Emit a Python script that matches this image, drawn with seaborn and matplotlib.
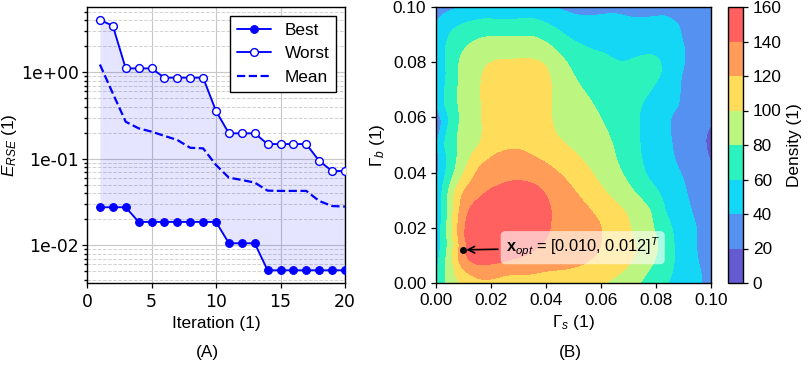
import numpy as np
import pandas as pd
import matplotlib
matplotlib.use("Agg")
import matplotlib.pyplot as plt
import seaborn as sns
from matplotlib.ticker import FuncFormatter, LogLocator, NullFormatter

# ---------------- Panel (A): convergence data ----------------
iterations = list(range(1, 21))
best = [0.0275, 0.0275, 0.0275, 0.0186, 0.0186, 0.0186, 0.0186, 0.0186, 0.0186, 0.0186,
        0.01054, 0.01054, 0.01054, 0.00513, 0.00513, 0.00513, 0.00513, 0.00513, 0.00513, 0.00513]
worst = [4.02, 3.46, 1.11, 1.11, 1.11, 0.867, 0.867, 0.867, 0.867, 0.357,
         0.197, 0.197, 0.197, 0.148, 0.148, 0.148, 0.148, 0.0944, 0.0722, 0.0722]
mean = [1.23, 0.571, 0.268, 0.225, 0.206, 0.184, 0.165, 0.134, 0.132, 0.0848,
        0.0605, 0.0569, 0.053, 0.0428, 0.0425, 0.0425, 0.0425, 0.0325, 0.0284, 0.028]

# ---------------- Panel (B): density read at points (Gamma in units of 0.01) ----------------
pts_gs = [2.5, 2.0, 3.2, 1.5,
          0.97, 0.97, 1.1, 1.6, 2.3, 3.0, 3.7, 4.1, 4.15, 3.8, 3.2, 2.4, 1.5,
          2.8, 2.1, 1.5, 0.9, 0.8, 0.85, 0.9, 1.3, 2.5, 4.0, 5.4, 6.0, 6.0, 5.6, 5.0, 4.2, 3.5,
          5.0, 2.0, 4.8,
          1.65, 1.65, 1.65, 1.9, 2.5, 3.3, 4.0, 4.18, 4.18, 4.4, 5.2, 5.8, 6.3, 7.05, 7.3, 6.9, 6.1,
          1.1, 0.65, 0.6, 0.67, 0.7, 0.87,
          3.0, 3.0, 2.9, 2.5, 4.5, 6.5, 6.6, 5.4,
          0.42, 0.45, 0.6, 0.84, 0.84, 0.84, 1.1, 1.8, 3.6, 4.3, 4.87, 5.6, 6.08, 6.45, 6.9, 7.9,
          8.1, 7.66, 7.4, 0.27, 0.35,
          5.0, 1.2, 2.7, 7.5, 6.2,
          0.18, 0.24, 0.24, 0.24, 0.3, 0.6, 1.8, 3.6, 4.87, 6.1, 6.8, 7.66, 8.14, 8.26, 7.78, 7.48,
          7.42, 7.66, 8.26, 8.63, 8.5, 0.05,
          6.5, 7.4, 5.0, 7.0, 8.35, 0.5, 0.5, 4.6, 5.4,
          4.87, 6.5, 8.3, 8.87, 8.87, 8.87, 8.87, 8.5, 8.6, 9.0, 9.5, 9.72,
          2.5, 6.5, 8.3, 8.3, 8.0, 8.4, 9.2, 0.1, 0.1, 6.0, 6.8, 5.5, 7.3,
          0, 0, 0, 0, 0, 0, 0,
          10, 10, 10, 10, 10, 10, 10,
          9.5, 9.4, 9.4, 9.8, 6, 8, 2, 4, 1,
          5.5, 7.0, 9.0, 5.5, 7.5, 0.3]
pts_gb = [2.2, 1.5, 2.8, 1.1,
          0.9, 1.7, 2.4, 3.0, 3.5, 3.72, 3.55, 3.0, 2.2, 1.4, 0.95, 0.7, 0.6,
          4.8, 4.65, 4.2, 3.2, 2.4, 1.4, 0.6, 0.36, 0.36, 0.45, 0.7, 1.3, 2.1, 2.7, 3.4, 4.2, 4.6,
          2.0, 4.0, 1.2,
          5.0, 6.2, 7.3, 7.95, 8.14, 8.14, 7.95, 7.3, 6.2, 5.3, 4.6, 3.8, 3.1, 2.0, 1.0, 0.5, 0.0,
          4.1, 3.2, 2.4, 1.4, 0.6, 0.0,
          5.2, 6.5, 7.5, 0.0, 0.0, 1.5, 2.3, 3.6,
          1.4, 2.5, 3.8, 5.0, 6.2, 7.6, 8.5, 8.92, 8.92, 8.5, 7.78, 6.69, 5.84, 5.0, 3.8, 2.6,
          1.38, 0.4, 0.0, 0.0, 0.6,
          6.0, 6.5, 8.5, 2.0, 4.4,
          1.4, 3.5, 5.0, 6.5, 8.3, 9.2, 9.59, 9.59, 8.86, 8.4, 7.96, 8.26, 8.14, 7.65, 6.93, 6.45,
          5.0, 3.8, 2.6, 1.38, 0.17, 0.0,
          6.8, 7.6, 8.3, 4.5, 1.4, 8.0, 5.5, 8.6, 7.6,
          9.77, 9.78, 9.75, 9.35, 8.9, 7.5, 6.4, 6.1, 5.0, 3.8, 2.0, 0.17,
          9.85, 9.2, 9.1, 7.0, 5.0, 3.5, 0.5, 2.5, 7.5, 9.0, 8.7, 9.3, 9.1,
          10, 8, 5.8, 4.5, 3, 1.4, 0,
          10, 8, 6, 5.3, 4, 2, 0,
          9.5, 7.0, 4.5, 1.0, 10, 10, 10, 10, 10,
          10, 10, 10, 9.85, 9.85, 10]
pts_density = [157, 152, 150, 146,
               140, 140, 140, 140, 140, 140, 140, 140, 140, 140, 140, 140, 140,
               120, 120, 120, 120, 120, 120, 120, 120, 120, 120, 120, 120, 120, 120, 120, 120, 120,
               130, 131, 131,
               100, 100, 100, 100, 100, 100, 100, 100, 100, 100, 100, 100, 100, 100, 100, 100, 100,
               100, 100, 100, 100, 100, 100,
               117, 112, 107, 112, 110, 110, 110, 110,
               80, 80, 80, 80, 80, 80, 80, 80, 80, 80, 80, 80, 80, 80, 80, 80,
               80, 80, 80, 80, 80,
               90, 90, 90, 90, 88,
               60, 60, 60, 60, 60, 60, 60, 60, 60, 60, 60, 60, 60, 60, 60, 60,
               60, 60, 60, 60, 60, 60,
               70, 66, 70, 70, 70, 70, 70, 70, 72,
               40, 40, 40, 40, 40, 40, 40, 40, 40, 40, 40, 40,
               48, 50, 48, 52, 50, 52, 48, 50, 45, 50, 52, 47, 47,
               32, 36, 18, 30, 42, 47, 55,
               25, 25, 22, 17, 22, 28, 32,
               30, 30, 28, 33, 35, 32, 45, 42, 40,
               34, 33, 28, 37, 36, 33]

x_opt = [0.010, 0.012]
levels = [0, 20, 40, 60, 80, 100, 120, 140, 160]
level_colors = ["#645ad2", "#5591f0", "#14d7f5", "#2cf3be", "#bcf57f", "#ffdc5a", "#ff9c57", "#ff6060"]

# ---------------- style ----------------
sns.set_theme(style="ticks")
plt.rcParams["font.family"] = ["Liberation Sans", "DejaVu Sans"]
plt.rcParams.update({
    "mathtext.fontset": "custom",
    "mathtext.rm": "Liberation Sans",
    "mathtext.it": "Liberation Sans:italic",
    "mathtext.bf": "Liberation Sans:bold",
    "font.size": 12.4,
    "axes.labelsize": 12.4,
    "xtick.labelsize": 12.4,
    "ytick.labelsize": 12.4,
    "legend.fontsize": 12.4,
    "axes.edgecolor": "black",
    "axes.linewidth": 1.0,
    "xtick.color": "black",
    "ytick.color": "black",
    "xtick.major.size": 3.5,
    "ytick.major.size": 3.5,
    "ytick.minor.size": 2.0,
    "xtick.major.width": 0.9,
    "ytick.major.width": 0.9,
    "text.color": "black",
    "axes.labelcolor": "black",
})

W, H = 809, 372
fig = plt.figure(figsize=(W / 100, H / 100), dpi=100)
ax1 = fig.add_axes([87 / W, 1 - 283 / H, (345 - 87) / W, (283 - 7) / H])
ax2 = fig.add_axes([436 / W, 1 - 283 / H, (711 - 436) / W, (283 - 7) / H])
cax = fig.add_axes([728 / W, 1 - 283 / H, 15 / W, (283 - 7) / H])

# ---------------- Panel A ----------------
df = pd.DataFrame({"Iteration": iterations, "Best": best, "Worst": worst, "Mean": mean})
ax1.fill_between(df["Iteration"], df["Best"], df["Worst"], color="blue", alpha=0.1, lw=0, zorder=1)
sns.lineplot(data=df, x="Iteration", y="Best", ax=ax1, color="blue", marker="o", markersize=5.6,
             markerfacecolor="blue", markeredgecolor="blue", lw=1.35, label="Best", zorder=3)
sns.lineplot(data=df, x="Iteration", y="Worst", ax=ax1, color="blue", marker="o", markersize=5.6,
             markerfacecolor="white", markeredgecolor="blue", markeredgewidth=1.0, lw=1.35,
             label="Worst", zorder=3)
sns.lineplot(data=df, x="Iteration", y="Mean", ax=ax1, color="blue", linestyle="--", lw=1.6,
             label="Mean", zorder=3)
ax1.set_yscale("log")
ax1.set_xlim(0, 20)
ax1.set_ylim(0.00366, 5.69)
ax1.set_xticks([0, 5, 10, 15, 20])
ax1.yaxis.set_major_locator(LogLocator(base=10))
ax1.yaxis.set_minor_locator(LogLocator(base=10, subs=np.arange(2, 10)))
ax1.yaxis.set_major_formatter(FuncFormatter(lambda v, _: f"{v:.0e}"))
ax1.yaxis.set_minor_formatter(NullFormatter())
ax1.tick_params(axis="y", which="major", pad=2)
ax1.grid(True, which="major", color="#c8c8c8", lw=0.8, zorder=0)
ax1.grid(True, which="minor", axis="y", color="#d2d2d2", lw=0.7, ls="--", zorder=0)
ax1.set_axisbelow(True)
ax1.set_xlabel("Iteration (1)")
ax1.set_ylabel("$E_{RSE}$ (1)")
ax1.yaxis.set_label_coords(-0.262, 0.5)
for lbl in ax1.get_xticklabels() + ax1.get_yticklabels():
    lbl.set_fontfamily("DejaVu Sans")
    lbl.set_fontsize(12.4)
leg = ax1.legend(loc="upper right", fancybox=False, framealpha=1, edgecolor="black")
leg.get_frame().set_linewidth(1.0)
for sp in ax1.spines.values():
    sp.set_visible(True)
    sp.set_color("black")

# ---------------- Panel B ----------------
P = np.column_stack([pts_gs, pts_gb]).astype(float)
v = np.asarray(pts_density, dtype=float)


def tps_kernel(r):
    with np.errstate(divide="ignore", invalid="ignore"):
        out = r ** 2 * np.log(r)
    return np.nan_to_num(out)


n = len(v)
lam = 0.2
D = np.sqrt(((P[:, None, :] - P[None, :, :]) ** 2).sum(-1))
A = np.zeros((n + 3, n + 3))
A[:n, :n] = tps_kernel(D) + lam * np.eye(n)
Pm = np.column_stack([np.ones(n), P])
A[:n, n:] = Pm
A[n:, :n] = Pm.T
sol = np.linalg.solve(A, np.concatenate([v, np.zeros(3)]))
wts, aff = sol[:n], sol[n:]

g = np.linspace(0, 10, 201)
GX, GY = np.meshgrid(g, g)
G = np.column_stack([GX.ravel(), GY.ravel()])
DG = np.sqrt(((G[:, None, :] - P[None, :, :]) ** 2).sum(-1))
Z = tps_kernel(DG) @ wts + aff[0] + aff[1] * G[:, 0] + aff[2] * G[:, 1]
Z = np.clip(Z.reshape(GX.shape), 0.5, 159.5)

cf = ax2.contourf(GX * 0.01, GY * 0.01, Z, levels=levels, colors=level_colors)
ax2.set_xlim(0, 0.1)
ax2.set_ylim(0, 0.1)
ax2.set_xticks(np.round(np.arange(0, 0.101, 0.02), 2))
ax2.set_yticks(np.round(np.arange(0, 0.101, 0.02), 2))
ax2.xaxis.set_major_formatter(FuncFormatter(lambda v_, _: f"{v_:.2f}"))
ax2.yaxis.set_major_formatter(FuncFormatter(lambda v_, _: f"{v_:.2f}"))
ax2.set_xlabel(r"$\Gamma_s$ (1)")
ax2.set_ylabel(r"$\Gamma_b$ (1)")
for sp in ax2.spines.values():
    sp.set_visible(True)
    sp.set_color("black")

ax2.plot([x_opt[0]], [x_opt[1]], "o", color="black", ms=4, zorder=5)
ax2.annotate(r"$\mathbf{x}_{opt}$ = [0.010, 0.012]$^T$", xy=(x_opt[0], x_opt[1]),
             xytext=(0.0253, 0.0128), ha="left", va="center", fontsize=11.8,
             arrowprops=dict(arrowstyle="->", color="black", lw=1.2),
             bbox=dict(boxstyle="round,pad=0.3", fc="white", ec="none", alpha=0.6), zorder=6)

cb = fig.colorbar(cf, cax=cax, ticks=levels)
cb.set_label("Density (1)")
cb.outline.set_edgecolor("black")
cb.outline.set_linewidth(1.0)

fig.text(207 / W, 1 - 352 / H, "(A)", ha="center", va="center", fontsize=12.4)
fig.text(570 / W, 1 - 352 / H, "(B)", ha="center", va="center", fontsize=12.4)

fig.savefig("out.png", dpi=100)
